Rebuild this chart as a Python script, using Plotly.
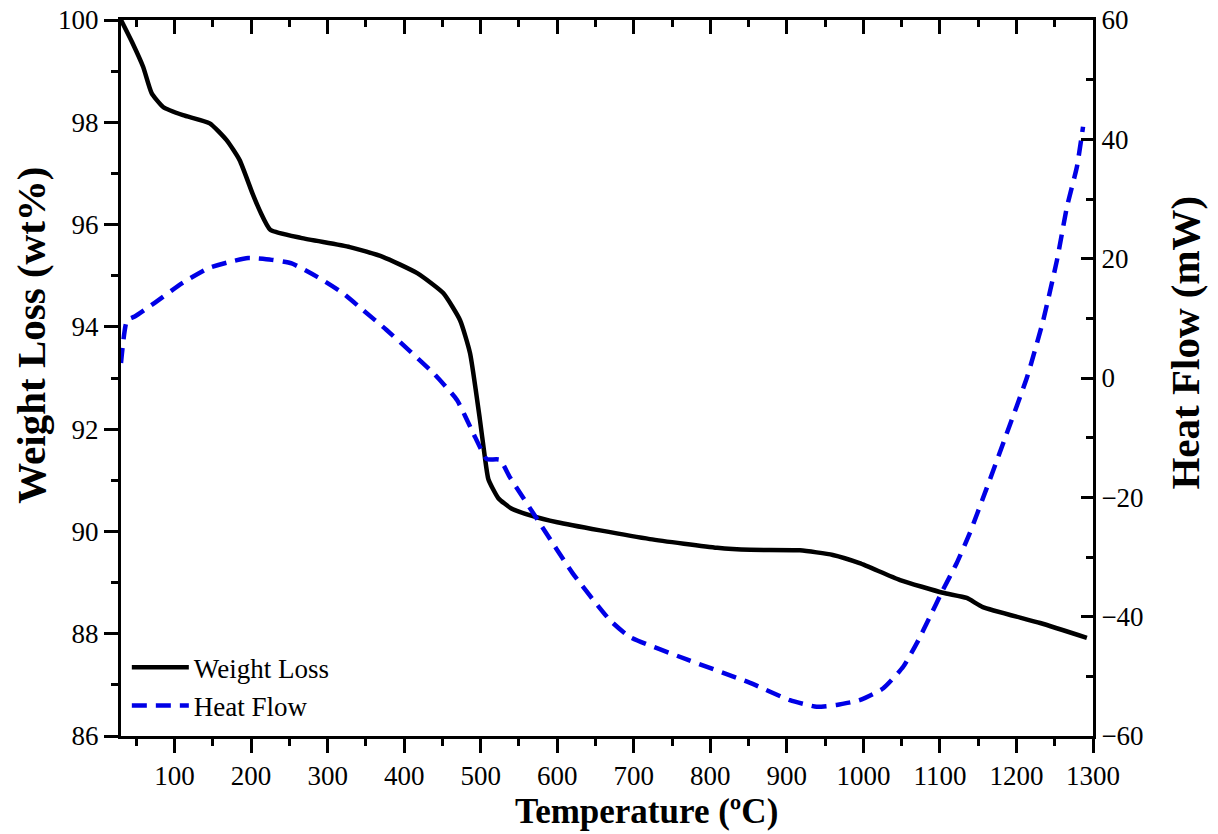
import plotly.graph_objects as go

# Weight loss (left axis)
temp_wl = [30, 45, 59, 70, 85, 111, 146, 168, 185, 202, 212, 225, 265, 329, 372, 417,
           451, 473, 486, 499, 505, 510, 523, 540, 568, 600, 656, 721, 809, 852, 917,
           960, 995, 1048, 1104, 1135, 1156, 1231, 1292]
weight_loss = [100.0, 99.55, 99.08, 98.57, 98.30, 98.14, 97.98, 97.65, 97.26, 96.60, 96.25,
               95.90, 95.74, 95.56, 95.37, 95.05, 94.66, 94.13, 93.49, 92.18, 91.50, 91.02,
               90.65, 90.45, 90.30, 90.18, 90.02, 89.85, 89.68, 89.64, 89.63, 89.54, 89.38,
               89.05, 88.80, 88.70, 88.52, 88.21, 87.92]

# Heat flow (right axis)
temp_hf = [30, 38, 48, 74, 110, 144, 170, 196, 227, 253, 287, 319, 346, 377, 438, 469,
           490, 501, 508, 525, 538, 577, 620, 669, 695, 770, 852, 904, 939, 965, 995,
           1026, 1052, 1070, 1087, 1104, 1122, 1139, 1161, 1187, 1214, 1235, 1253, 1266,
           1279, 1287]
heat_flow = [2.5, 9.7, 10.3, 12.6, 15.9, 18.4, 19.4, 20.1, 19.8, 19.2, 16.9, 14.3, 11.4,
             8.05, 0.84, -3.7, -9.2, -12.1, -13.6, -13.7, -16.6, -24.3, -32.7, -40.6,
             -43.4, -47.2, -51.1, -54.0, -55.1, -54.8, -54.0, -52.0, -48.4, -44.4, -40.0,
             -35.5, -31.0, -26.0, -18.5, -9.4, 0.2, 9.7, 19.8, 28.7, 35.4, 42.1]

x_range = [30, 1300]
FONT = "Liberation Serif"

fig = go.Figure()
fig.add_trace(go.Scatter(x=temp_wl, y=weight_loss, name="Weight Loss", mode="lines",
                         line=dict(color="black", width=4.5, shape="spline", smoothing=0.5),
                         yaxis="y", xaxis="x"))
fig.add_trace(go.Scatter(x=temp_hf, y=heat_flow, name="Heat Flow", mode="lines",
                         line=dict(color="#0000e6", width=4.5, dash="15px,9px",
                                   shape="spline", smoothing=0.5),
                         yaxis="y2", xaxis="x"))
# helper trace to show the top mirrored axis
fig.add_trace(go.Scatter(x=[None], y=[None], xaxis="x2", yaxis="y",
                         showlegend=False, hoverinfo="skip"))

axis_common = dict(showline=True, linecolor="black", linewidth=3, showgrid=False,
                   zeroline=False, tickcolor="black", tickwidth=3,
                   tickfont=dict(family=FONT, size=27, color="black"))

title_font = dict(family=FONT, size=35, color="black", weight="bold")
ytitle_font = dict(family=FONT, size=41, color="black", weight="bold")

fig.update_layout(
    width=1218, height=834,
    margin=dict(l=121, r=125, t=20, b=98, autoexpand=False),
    plot_bgcolor="white", paper_bgcolor="white",
    showlegend=True,
    legend=dict(x=0.006, y=0.008, xanchor="left", yanchor="bottom",
                font=dict(family=FONT, size=27, color="black"),
                bgcolor="rgba(0,0,0,0)", itemwidth=57, tracegroupgap=0),
    xaxis=dict(range=x_range, tick0=0, dtick=100, ticks="outside", ticklen=14,
               minor=dict(dtick=50, tick0=0, ticks="outside", ticklen=7,
                          tickwidth=3, tickcolor="black"),
               **axis_common),
    xaxis2=dict(range=x_range, overlaying="x", side="top", anchor="y",
                tick0=0, dtick=100, ticks="inside", ticklen=14, showticklabels=False,
                minor=dict(dtick=50, tick0=0, ticks="inside", ticklen=7,
                           tickwidth=3, tickcolor="black"),
                **axis_common),
    yaxis=dict(range=[86, 100], dtick=2, ticks="outside", ticklen=14,
               minor=dict(dtick=1, ticks="outside", ticklen=7, tickwidth=3,
                          tickcolor="black"),
               **axis_common),
    yaxis2=dict(range=[-60, 60], dtick=20, overlaying="y", side="right", anchor="x",
                ticks="inside", ticklen=12,
                minor=dict(dtick=10, ticks="inside", ticklen=7, tickwidth=3,
                           tickcolor="black"),
                **axis_common),
    annotations=[
        dict(text="Temperature (ºC)", xref="paper", yref="paper", x=0.541, y=-0.106,
             xanchor="center", yanchor="middle", showarrow=False, font=title_font),
        dict(text="Weight Loss (wt%)", xref="paper", yref="paper", x=-0.093, y=0.56,
             xanchor="center", yanchor="middle", textangle=-90, showarrow=False,
             font=ytitle_font),
        dict(text="Heat Flow (mW)", xref="paper", yref="paper", x=1.095, y=0.55,
             xanchor="center", yanchor="middle", textangle=-90, showarrow=False,
             font=ytitle_font),
    ],
)

fig.write_html("out.html")
